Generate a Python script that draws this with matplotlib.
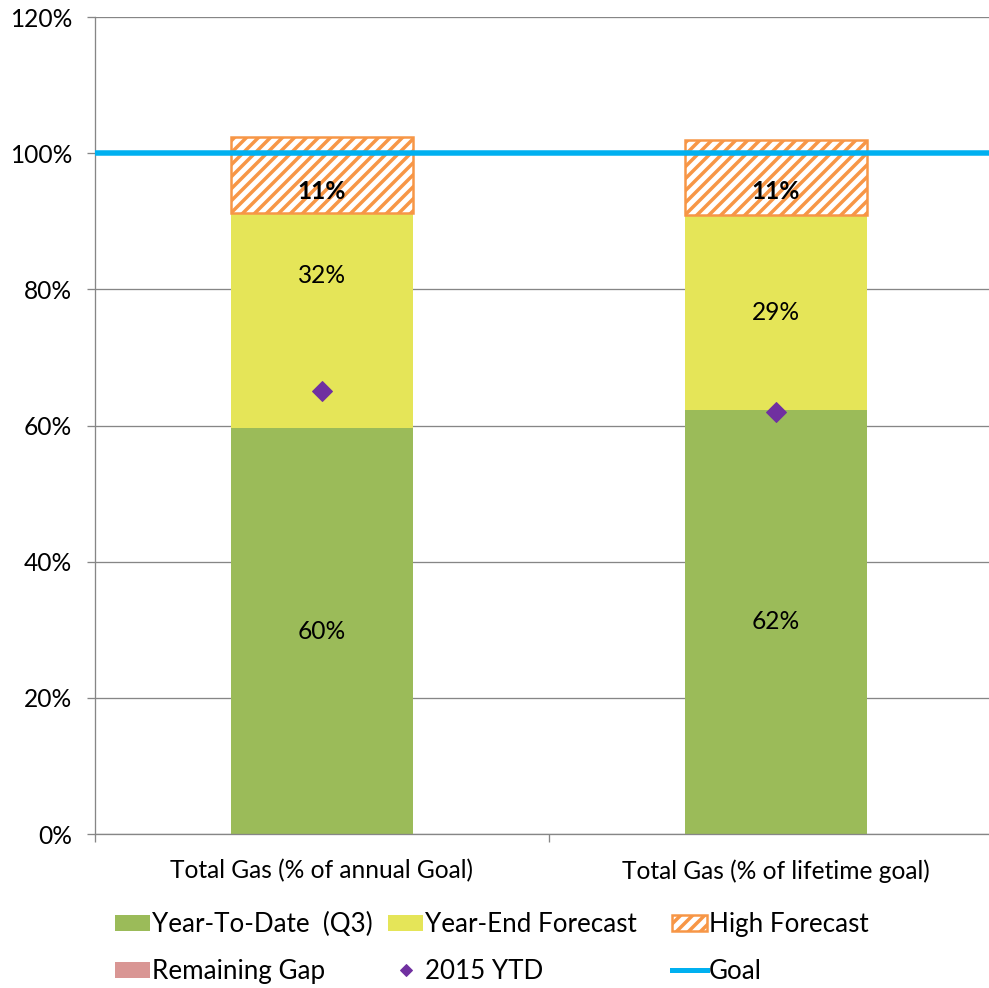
import matplotlib.pyplot as plt
from matplotlib.lines import Line2D
from matplotlib.ticker import FuncFormatter

# data (percent of goal)
categories = ['Total Gas (% of annual Goal)', 'Total Gas (% of lifetime goal)']
ytd_q3 = [59.6, 62.3]
year_end_forecast = [31.6, 28.6]
high_forecast = [11.2, 11.0]
remaining_gap = [0, 0]
ytd_2015 = [65, 62]
goal = 100

ytd_labels = ['60%', '62%']
yef_labels = ['32%', '29%']
high_labels = ['11%', '11%']

# colours
c_green = '#9BBB59'
c_yellow = '#E5E558'
c_orange = '#F79646'
c_pink = '#D99694'
c_purple = '#7030A0'
c_goal = '#00B0F0'
c_grid = '#868686'

plt.rcParams['font.family'] = ['Lato', 'DejaVu Sans']
plt.rcParams['hatch.linewidth'] = 3.5

# dpi 72 -> 1 pt = 1 px
fig = plt.figure(figsize=(989/72, 988/72), dpi=72)
ax = fig.add_axes([95/989, 154/988, 908/989, 817/988])

x = list(range(len(categories)))
w = 0.40

b1 = ax.bar(x, ytd_q3, w, color=c_green, zorder=2)
bot2 = ytd_q3
b2 = ax.bar(x, year_end_forecast, w, bottom=bot2, color=c_yellow, zorder=2)
bot3 = [a + b for a, b in zip(ytd_q3, year_end_forecast)]
b3 = ax.bar(x, high_forecast, w, bottom=bot3, facecolor='white',
            edgecolor=c_orange, hatch='//', linewidth=2.5, zorder=2)
bot4 = [a + b for a, b in zip(bot3, high_forecast)]
b4 = ax.bar(x, remaining_gap, w, bottom=bot4, color=c_pink, linewidth=0, zorder=2)

ax.plot(x, ytd_2015, linestyle='none', marker='D', markersize=14,
        color=c_purple, zorder=4)
ax.axhline(goal, color=c_goal, linewidth=5.5, zorder=3)

# data labels (small nudges like the hand-placed labels in the original)
fs = 24.5
yef_nudge = [6.6, 0]
high_nudge = [-2.4, -2.0]
for i in x:
    ax.text(i, ytd_q3[i] / 2, ytd_labels[i], ha='center', va='center',
            fontsize=fs, zorder=5)
    ax.text(i, bot2[i] + year_end_forecast[i] / 2 + yef_nudge[i], yef_labels[i],
            ha='center', va='center', fontsize=fs, zorder=5)
    ax.text(i, bot3[i] + high_forecast[i] / 2 + high_nudge[i], high_labels[i],
            ha='center', va='center', fontsize=fs, fontweight='bold', zorder=5)

# axes styling
ax.set_xlim(-0.5, 1.5)
ax.set_ylim(0, 120)
ax.set_yticks(range(0, 121, 20))
ax.yaxis.set_major_formatter(FuncFormatter(lambda v, p: f'{v:.0f}%'))
ax.yaxis.grid(True, color=c_grid, linewidth=1.3, zorder=0)
ax.set_axisbelow(True)
ax.set_xticks(x)
ax.set_xticklabels(categories)
ax.set_xticks([-0.5, 0.5, 1.5], minor=True)
ax.tick_params(axis='x', which='major', length=0, pad=25, labelsize=fs)
ax.tick_params(axis='x', which='minor', length=8, width=1.3, color=c_grid)
ax.tick_params(axis='y', length=8, width=1.3, color=c_grid, pad=15, labelsize=fs)
for s in ['top', 'right']:
    ax.spines[s].set_visible(False)
for s in ['left', 'bottom']:
    ax.spines[s].set_color(c_grid)
    ax.spines[s].set_linewidth(1.3)

# legend: three columns placed like the original
lfs = 26
diamond = Line2D([], [], linestyle='none', marker='D', markersize=9, color=c_purple)
goal_line = Line2D([], [], color=c_goal, linewidth=5)
columns = [
    ([b1, b4], ['Year-To-Date  (Q3)', 'Remaining Gap'], 115),
    ([b2, diamond], ['Year-End Forecast', '2015 YTD'], 388),
    ([b3, goal_line], ['High Forecast', 'Goal'], 672),
]
for handles, labels, px in columns:
    fig.legend(handles, labels, loc='upper left',
               bbox_to_anchor=(px / 989, 1 - 912 / 988),
               frameon=False, fontsize=lfs, borderpad=0, borderaxespad=0,
               handlelength=1.35, handleheight=0.58, handletextpad=0.08,
               labelspacing=0.85)

fig.savefig('out.png', dpi=72)
